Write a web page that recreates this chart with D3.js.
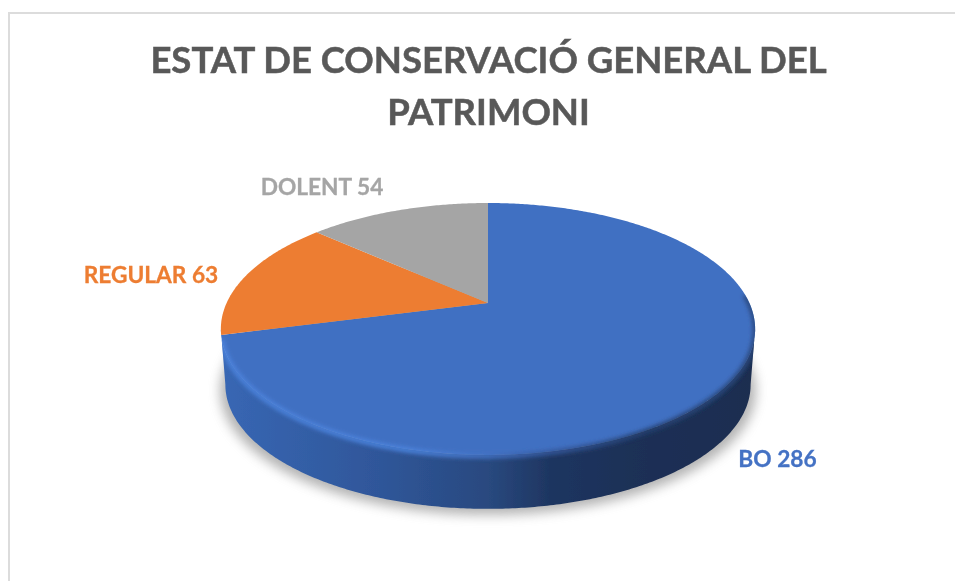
<!DOCTYPE html>
<html>
<head>
<meta charset="utf-8">
<script src="https://cdn.jsdelivr.net/npm/d3@7"></script>
<style>
  html, body { margin: 0; padding: 0; background: #fff; }
  svg { display: block; }
  text { font-family: Lato, "Open Sans", sans-serif; font-weight: 700; }
</style>
</head>
<body>
<svg id="chart" width="955" height="581"></svg>
<script>
const categories = ['BO', 'REGULAR', 'DOLENT'];
const seriesValues = [286, 63, 54];
const titleLines = ['ESTAT DE CONSERVACIÓ GENERAL DEL', 'PATRIMONI'];

const sliceColors = ['#4170c2', '#ed7d31', '#a5a5a5'];
const labelColors = ['#4472c4', '#ed7d31', '#a5a5a5'];
const labelPositions = [[777.5, 467], [151, 283], [322, 195]];

const width = 955;
const height = 581;
const perspective = 0.206; // near edge of the disc is drawn larger than the far edge

const svg = d3.select('#chart');
const defs = svg.append('defs');

// maps an angle on the disc (clockwise from the top) to the page
function project(angle, plane) {
  const u = Math.sin(angle);
  const v = -Math.cos(angle);
  const w = 1 - (perspective * v);
  return [plane.x + ((plane.a * u) / w), plane.y + ((plane.b * v) / w)];
}

const topPlane = { x: 488, y: 303, a: 261.4, b: 120.6 };
const basePlane = { x: 488, y: 359, a: 257, b: 119 };

function arcPoints(start, end, plane) {
  const steps = Math.max(2, Math.ceil(Math.abs(end - start) / 0.01));
  return d3.range(steps + 1).map(i => project(start + (((end - start) * i) / steps), plane));
}

const line = d3.line();

// angle where the disc outline is widest, the wall runs between these two
const sideAngle = Math.acos(-perspective);
const nearStart = sideAngle;
const nearEnd = (2 * Math.PI) - sideAngle;

const wallOutline = arcPoints(nearStart, nearEnd, topPlane)
  .concat(arcPoints(nearEnd, nearStart, basePlane));

function addHorizontalGradient(id, stops) {
  const gradient = defs.append('linearGradient')
    .attr('id', id)
    .attr('gradientUnits', 'userSpaceOnUse')
    .attr('x1', 221)
    .attr('x2', 755)
    .attr('y1', 0)
    .attr('y2', 0);
  stops.forEach((s) => {
    gradient.append('stop').attr('offset', s[0]).attr('stop-color', s[1]);
  });
}

addHorizontalGradient('wall', [
  [0, '#3867b4'],
  [0.3, '#2f5699'],
  [0.5, '#29497f'],
  [0.62, '#1e3560'],
  [0.8, '#1c2f55'],
  [1, '#1b2d50'],
]);
addHorizontalGradient('bevel', [
  [0, '#4b82dc'],
  [0.35, '#4c84de'],
  [0.5, '#4372c4'],
  [0.62, '#33579a'],
  [0.8, '#24406f'],
  [1, '#2a4a80'],
]);

defs.append('filter').attr('id', 'shadowBlur')
  .attr('x', '-10%').attr('y', '-10%').attr('width', '120%').attr('height', '120%')
  .append('feGaussianBlur').attr('stdDeviation', 6);
defs.append('filter').attr('id', 'edgeBlur')
  .attr('x', '-5%').attr('y', '-5%').attr('width', '110%').attr('height', '110%')
  .append('feGaussianBlur').attr('stdDeviation', 2.2);
defs.append('filter').attr('id', 'softBlur')
  .attr('x', '-5%').attr('y', '-5%').attr('width', '110%').attr('height', '110%')
  .append('feGaussianBlur').attr('stdDeviation', 0.45);
defs.append('clipPath').attr('id', 'discClip')
  .append('path')
  .attr('d', `${line(arcPoints(0, 2 * Math.PI, topPlane))}Z${line(wallOutline)}Z`);

// chart frame, runs off the right and bottom of the picture
svg.append('path')
  .attr('d', d3.line()([[9, height], [9, 13], [width, 13]]))
  .attr('fill', 'none')
  .attr('stroke', '#dcdcdc')
  .attr('stroke-width', 2);

// soft shadow under the disc
svg.append('path')
  .attr('d', `${line(arcPoints(0, 2 * Math.PI, { ...basePlane, y: basePlane.y + 6, a: basePlane.a + 5 }))}Z`)
  .attr('fill', '#808080')
  .attr('opacity', 0.6)
  .attr('filter', 'url(#shadowBlur)');

const disc = svg.append('g').attr('filter', 'url(#softBlur)');

disc.append('path')
  .attr('d', `${line(wallOutline)}Z`)
  .attr('fill', 'url(#wall)');

const pie = d3.pie().sort(null).startAngle(0).endAngle(2 * Math.PI);
const slices = pie(seriesValues);
const apex = [topPlane.x, topPlane.y];

disc.append('g')
  .selectAll('path')
  .data(slices)
  .enter().append('path')
  .attr('d', d => `${line([apex].concat(arcPoints(d.startAngle, d.endAngle, topPlane)))}Z`)
  .attr('fill', (d, i) => sliceColors[i]);

// rounded lip where the top of the blue slice meets the wall
disc.append('g')
  .attr('clip-path', 'url(#discClip)')
  .append('path')
  .attr('d', line(arcPoints(slices[0].endAngle - 0.03, nearStart - 0.28, { ...topPlane, y: topPlane.y + 1 })))
  .attr('fill', 'none')
  .attr('stroke', 'url(#bevel)')
  .attr('stroke-width', 5)
  .attr('filter', 'url(#edgeBlur)');

const labelLayer = svg.append('g').attr('filter', 'url(#softBlur)');

// title
labelLayer.append('g')
  .selectAll('text')
  .data(titleLines)
  .enter().append('text')
  .attr('x', 488.5)
  .attr('y', (d, i) => 73 + (i * 52))
  .attr('text-anchor', 'middle')
  .attr('font-size', 36.5)
  .attr('fill', '#595959')
  .attr('stroke', '#595959')
  .attr('stroke-width', 0.5)
  .text(d => d);

// data labels
labelLayer.append('g')
  .selectAll('text')
  .data(categories)
  .enter().append('text')
  .attr('x', (d, i) => labelPositions[i][0])
  .attr('y', (d, i) => labelPositions[i][1])
  .attr('text-anchor', 'middle')
  .attr('font-size', 22.7)
  .attr('fill', (d, i) => labelColors[i])
  .attr('stroke', (d, i) => labelColors[i])
  .attr('stroke-width', 0.3)
  .text((d, i) => `${d} ${seriesValues[i]}`);
</script>
</body>
</html>
